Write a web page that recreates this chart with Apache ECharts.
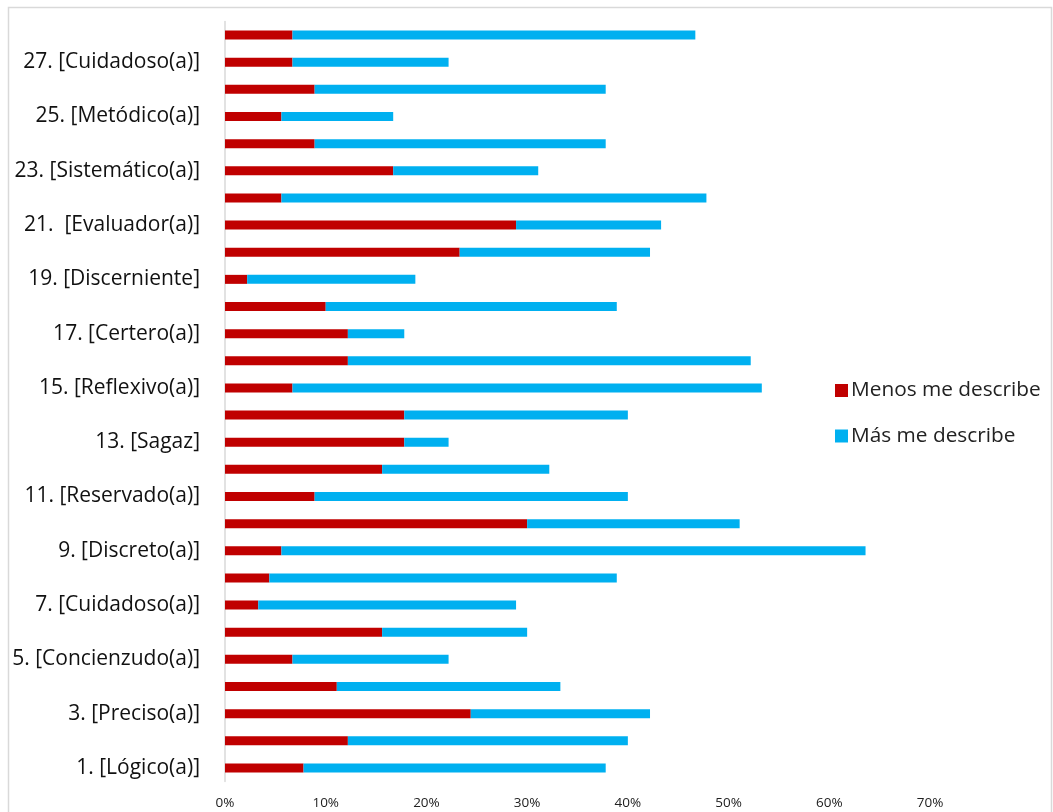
<!DOCTYPE html>
<html>
<head>
<meta charset="utf-8">
<script src="https://cdn.jsdelivr.net/npm/echarts@6/dist/echarts.min.js"></script>
<style>html,body{margin:0;padding:0;background:#fff;}#c{width:1053px;height:812px;}</style>
</head>
<body>
<div id="c"></div>
<script>
var categories = ["1. [Lógico(a)]","2.","3. [Preciso(a)]","4.","5. [Concienzudo(a)]","6.","7. [Cuidadoso(a)]","8.","9. [Discreto(a)]","10.","11. [Reservado(a)]","12.","13. [Sagaz]","14.","15. [Reflexivo(a)]","16.","17. [Certero(a)]","18.","19. [Discerniente]","20.","21.  [Evaluador(a)]","22.","23. [Sistemático(a)]","24.","25. [Metódico(a)]","26.","27. [Cuidadoso(a)]","28."];
// Menos me describe (share)
var menos = [0.078,0.122,0.244,0.111,0.067,0.156,0.033,0.044,0.056,0.300,0.089,0.156,0.178,0.178,0.067,0.122,0.122,0.100,0.022,0.233,0.289,0.056,0.167,0.089,0.056,0.089,0.067,0.067];
// Más me describe (share)
var mas = [0.300,0.278,0.178,0.222,0.155,0.144,0.256,0.345,0.580,0.211,0.311,0.166,0.044,0.222,0.466,0.400,0.056,0.289,0.167,0.189,0.144,0.422,0.144,0.289,0.111,0.289,0.155,0.400];
var tickMax = 0.7;
var tickStep = 0.1;

var chart = echarts.init(document.getElementById('c'), null, {renderer:'canvas'});
var font = '"Open Sans", Lato, sans-serif';
chart.setOption({
  animation:false,
  backgroundColor:'#fff',
  graphic:[{type:'rect',shape:{x:8.5,y:7.5,width:1043,height:820},style:{fill:'none',stroke:'#d9d9d9',lineWidth:1.5},silent:true}],
  grid:{left:225,right:123,top:21.5,bottom:30.5,containLabel:false},
  legend:{
    orient:'vertical', left:830, top:375,
    itemWidth:13, itemHeight:13, itemGap:24.5,
    icon:'rect',
    textStyle:{fontFamily:font,fontSize:20.8,color:'#222',padding:[0,0,0,-2]},
    data:['Menos me describe','Más me describe']
  },
  xAxis:{
    type:'value', min:0, max:tickMax, interval:tickStep,
    axisLine:{show:false}, axisTick:{show:false}, splitLine:{show:false},
    axisLabel:{formatter:function(v){return Math.round(v*100)+'%';},fontFamily:font,fontSize:13.5,color:'#222',margin:15}
  },
  yAxis:{
    type:'category', data:categories,
    axisLine:{show:true,lineStyle:{color:'#d9d9d9',width:1.5}},
    axisTick:{show:false},
    axisLabel:{interval:1,fontFamily:font,fontSize:21,color:'#111',margin:25}
  },
  series:[
    {name:'Menos me describe',type:'bar',stack:'t',data:menos,barWidth:9,itemStyle:{color:'#c00000'}},
    {name:'Más me describe',type:'bar',stack:'t',data:mas,barWidth:9,itemStyle:{color:'#00b0f0'}}
  ]
});
</script>
</body>
</html>
